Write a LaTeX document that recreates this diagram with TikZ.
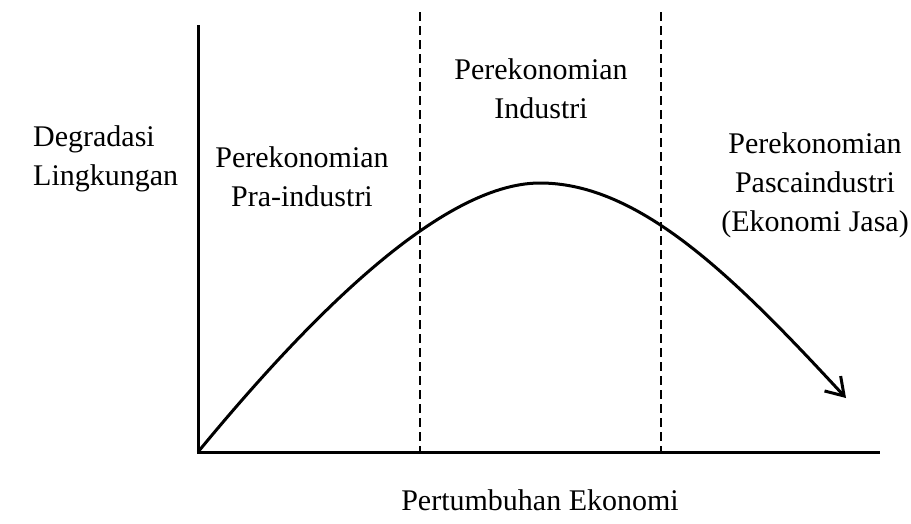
\documentclass[tikz,border=0pt]{standalone}
\usepackage{fontspec}
\setmainfont{Liberation Serif}
\usetikzlibrary{arrows.meta}
\begin{document}
\begin{tikzpicture}[x=1pt,y=-1pt,
  axis/.style={line width=3pt},
  divider/.style={line width=1.6pt, dash pattern=on 8.5pt off 5.5pt},
  curve/.style={line width=3pt, -{Straight Barb[length=17pt,width=22pt,line width=3pt]}},
  lbl/.style={font=\fontsize{30}{39}\selectfont, align=center, inner sep=0pt}]
\useasboundingbox (0,0) rectangle (911,523);
\fill[white] (0,0) rectangle (911,523);
\coordinate (o) at (198,452);
\coordinate (ytop) at (198,25);
\coordinate (xend) at (880,452);
\coordinate (d1t) at (420,12);
\coordinate (d1b) at (420,452);
\coordinate (d2t) at (661,12);
\coordinate (d2b) at (661,452);
\coordinate (peak) at (540,183);
\coordinate (tip) at (846,398);
\draw[axis] (ytop) -- (o) -- (xend);
\draw[divider] (d1t) -- (d1b);
\draw[divider] (d2t) -- (d2b);
\draw[curve] (o) .. controls (305,322) and (440,183) .. (peak) .. controls (640,183) and (735,278) .. (tip);
\node[lbl, align=left, anchor=west] (deg) at (33,159) {Degradasi\\Lingkungan};
\node[lbl] (pra) at (302,177) {Perekonomian\\Pra-industri};
\node[lbl] (ind) at (541,89) {Perekonomian\\Industri};
\node[lbl] (pasca) at (815,185) {Perekonomian\\Pascaindustri\\(Ekonomi Jasa)};
\node[lbl] (xl) at (540,500) {Pertumbuhan Ekonomi};
\end{tikzpicture}
\end{document}
